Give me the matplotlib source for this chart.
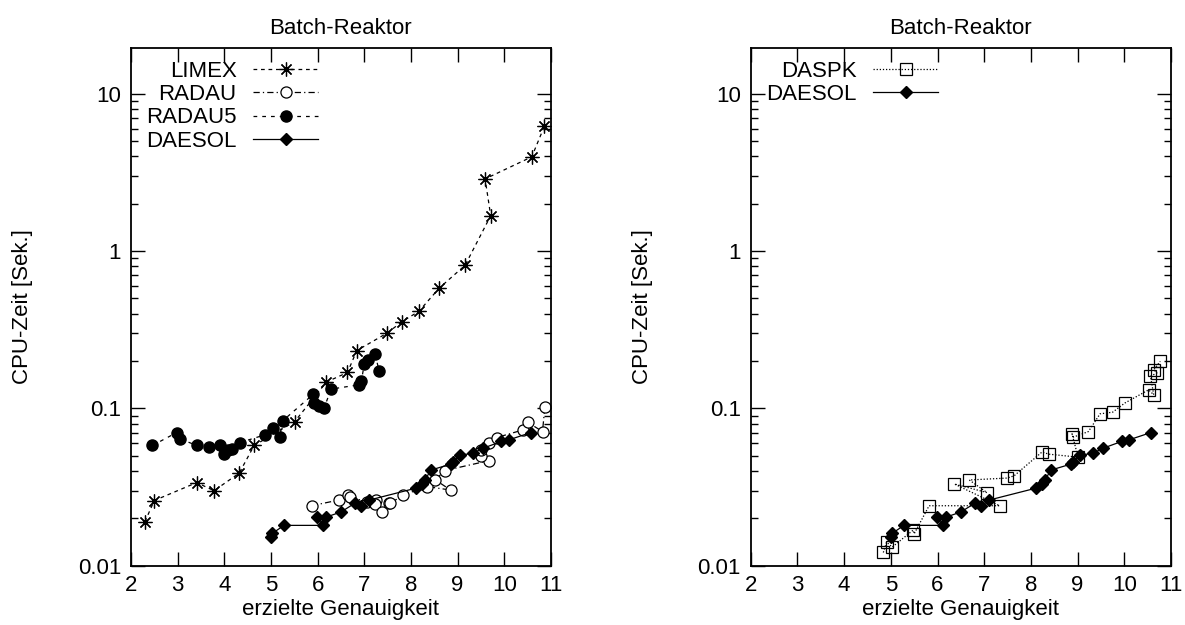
import matplotlib
matplotlib.use("Agg")
import matplotlib.pyplot as plt
from matplotlib.ticker import LogLocator, NullFormatter, FixedLocator, FixedFormatter

plt.rcParams['font.family'] = ['Liberation Sans', 'DejaVu Sans']
plt.rcParams['font.size'] = 16

# LIMEX
limex_x = [2.30, 2.50, 3.41, 3.78, 4.32, 4.64, 5.51, 6.19, 6.64, 6.84, 7.49, 7.81,
           8.17, 8.61, 9.16, 9.71, 9.59, 10.59, 10.86]
limex_y = [0.019, 0.0259, 0.0337, 0.0299, 0.0387, 0.058, 0.0824, 0.147, 0.169, 0.233,
           0.301, 0.356, 0.414, 0.583, 0.812, 1.68, 2.88, 3.98, 6.23]

# RADAU
radau_x = [5.87, 6.46, 6.66, 6.69, 7.05, 7.25, 7.23, 7.39, 7.53, 7.56, 7.84, 8.34,
           8.85, 8.52, 8.73, 9.68, 9.51, 9.51, 9.68, 9.84, 10.41, 10.50, 10.82, 10.87]
radau_y = [0.0240, 0.0261, 0.0281, 0.0272, 0.0255, 0.0261, 0.0247, 0.0220, 0.0249, 0.0249,
           0.0281, 0.0318, 0.0302, 0.0351, 0.0402, 0.0465, 0.0498, 0.0544, 0.060, 0.0652,
           0.073, 0.0817, 0.0711, 0.102]

# RADAU5
radau5_x = [2.46, 2.98, 3.05, 3.41, 3.67, 3.91, 3.99, 4.08, 4.17, 4.34, 4.87, 5.04,
            5.19, 5.25, 5.91, 5.93, 6.03, 6.14, 6.29, 6.88, 6.94, 7.00, 7.07, 7.23, 7.32]
radau5_y = [0.058, 0.0701, 0.064, 0.058, 0.0569, 0.058, 0.0513, 0.0542, 0.0552, 0.0606,
            0.0678, 0.0748, 0.066, 0.0832, 0.123, 0.108, 0.104, 0.1007, 0.1325, 0.141,
            0.150, 0.191, 0.204, 0.223, 0.172]

# DAESOL
daesol_x = [5.01, 5.03, 5.28, 6.11, 5.99, 6.18, 6.50, 6.80, 6.94, 7.11, 8.10, 8.24,
            8.31, 8.42, 8.85, 8.90, 9.05, 9.33, 9.55, 9.94, 10.10, 10.57]
daesol_y = [0.0151, 0.0160, 0.0180, 0.0180, 0.0203, 0.0203, 0.0219, 0.0249, 0.0240, 0.0261,
            0.0310, 0.0330, 0.0351, 0.0404, 0.0441, 0.0454, 0.0503, 0.0518, 0.0558, 0.0615,
            0.063, 0.0701]

# DASPK
daspk_x = [4.84, 4.91, 5.03, 5.48, 5.50, 5.82, 7.33, 6.36, 7.06, 6.68, 7.49, 7.64,
           8.24, 8.38, 9.01, 8.88, 8.91, 9.23, 9.48, 9.75, 10.01, 10.52, 10.63, 10.56,
           10.70, 10.63, 10.77]
daspk_y = [0.0121, 0.0141, 0.0131, 0.0168, 0.0159, 0.0240, 0.0240, 0.033, 0.0291, 0.035,
           0.036, 0.0372, 0.0528, 0.0511, 0.0489, 0.0688, 0.0656, 0.0711, 0.0922, 0.0945,
           0.108, 0.131, 0.122, 0.160, 0.168, 0.176, 0.199]

title = "Batch-Reaktor"
xlabel = "erzielte Genauigkeit"
ylabel = "CPU-Zeit [Sek.]"
xticks = [2, 3, 4, 5, 6, 7, 8, 9, 10, 11]
yticks = [0.01, 0.1, 1, 10]
yticklabels = ["0.01", "0.1", "1", "10"]

fig = plt.figure(figsize=(11.85, 6.25), dpi=100)
ax1 = fig.add_axes([0.1105, 0.0952, 0.3544, 0.828])
ax2 = fig.add_axes([0.6335, 0.0952, 0.3547, 0.828])

lw = 0.9
ax1.plot(limex_x, limex_y, color='k', lw=lw, ls=(0, (3, 3)), marker=(8, 2, 0), ms=10,
         mew=0.9, label='LIMEX', clip_on=False)
ax1.plot(radau_x, radau_y, color='k', lw=lw, ls=(0, (5, 2.5, 1, 2.5)), marker='o', ms=8,
         mfc='white', mew=0.9, label='RADAU', clip_on=False)
ax1.plot(radau5_x, radau5_y, color='k', lw=lw, ls=(0, (3, 4)), marker='o', ms=8,
         label='RADAU5', clip_on=False)
ax1.plot(daesol_x, daesol_y, color='k', lw=lw, ls='-', marker='D', ms=6, label='DAESOL',
         clip_on=False)

ax2.plot(daspk_x, daspk_y, color='k', lw=lw, ls=(0, (1, 1.5)), marker='s', ms=9,
         mfc='none', mew=0.9, label='DASPK', clip_on=False)
ax2.plot(daesol_x, daesol_y, color='k', lw=lw, ls='-', marker='D', ms=6, label='DAESOL',
         clip_on=False)

for ax in (ax1, ax2):
    ax.set_yscale('log')
    ax.set_xlim(2, 11)
    ax.set_ylim(0.01, 19.6)
    ax.xaxis.set_major_locator(FixedLocator(xticks))
    ax.yaxis.set_major_locator(FixedLocator(yticks))
    ax.yaxis.set_major_formatter(FixedFormatter(yticklabels))
    ax.yaxis.set_minor_locator(LogLocator(base=10, subs=range(2, 10)))
    ax.yaxis.set_minor_formatter(NullFormatter())
    ax.tick_params(which='both', direction='in', top=True, right=True, width=1.0)
    ax.tick_params(which='major', length=10, pad=7)
    ax.tick_params(which='minor', length=5)
    for s in ax.spines.values():
        s.set_linewidth(1.3)
    ax.set_title(title, pad=10, fontsize=16)
    ax.set_xlabel(xlabel)
    ax.set_ylabel(ylabel)
    ax.xaxis.set_label_coords(0.5, -0.065)
    ax.yaxis.set_label_coords(-0.233, 0.5)
    ax.legend(loc='upper right', bbox_to_anchor=(0.445, 0.975), markerfirst=False,
              frameon=False, borderpad=0, borderaxespad=0, handlelength=2.9,
              handletextpad=0.75, labelspacing=0.1, fontsize=16)

fig.savefig('out.png', dpi=100)
